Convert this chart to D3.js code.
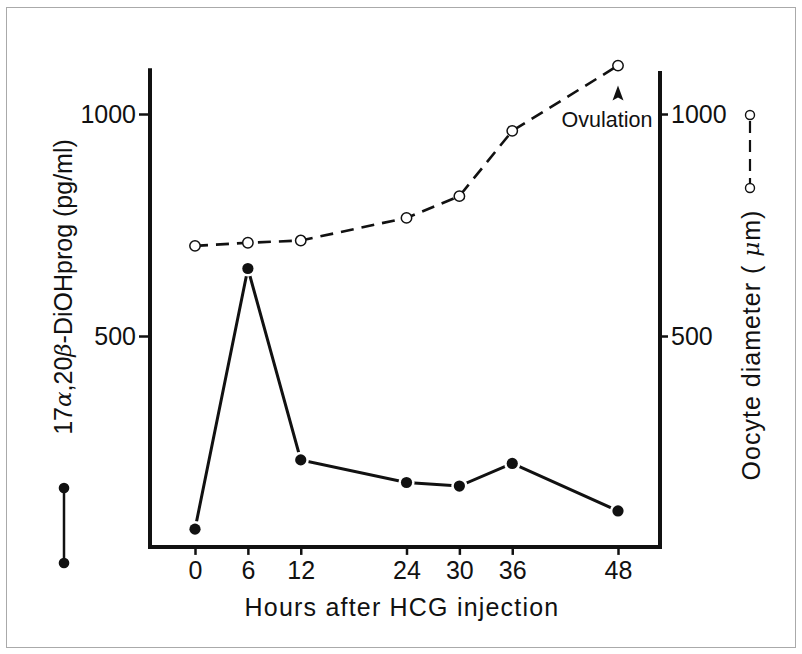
<!DOCTYPE html>
<html>
<head>
<meta charset="utf-8">
<script src="https://cdn.jsdelivr.net/npm/d3@7"></script>
<style>
  html, body { margin: 0; padding: 0; background: #fff; }
  svg { display: block; }
  text { font-family: "Liberation Sans", Arial, Helvetica, sans-serif; fill: #111; }
</style>
</head>
<body>
<svg id="chart" width="802" height="654"></svg>
<script>
// ---- data ----
const hours = [0, 6, 12, 24, 30, 36, 48];
const steroid = [65, 652, 221, 170, 162, 213, 106];      // 17a,20b-DiOHprog (pg/ml)
const diameter = [703, 710, 715, 766, 815, 962, 1109];   // Oocyte diameter (um)
const xTicks = [0, 6, 12, 24, 30, 36, 48];
const leftTicks = [500, 1000];
const rightTicks = [500, 1000];
const annotationHour = 48;
const annotationText = "Ovulation";

// ---- layout ----
const svg = d3.select("#chart");
const ink = "#111";
const fontStack = '"Liberation Sans", Arial, sans-serif';
const frameLeft = 150, frameRight = 660;

const x = d3.scaleLinear().domain([0, 48]).range([195, 618]);
const y = d3.scaleLinear().domain([0, 1000]).range([558, 114]);
const yR = d3.scaleLinear().domain([0, 1000]).range([558, 114]);

const axisBottomVal = 25, leftTopVal = 1103, rightTopVal = 1097;
const yBottom = y(axisBottomVal);

// outer light frame
svg.append("rect").attr("x", 6.5).attr("y", 7.5).attr("width", 789).attr("height", 640)
  .attr("fill", "none").attr("stroke", "#aaa").attr("stroke-width", 1);

// axes frame (left, bottom, right)
svg.append("path")
  .attr("d", `M${frameLeft},${y(leftTopVal)} L${frameLeft},${yBottom} L${frameRight},${yBottom} L${frameRight},${yR(rightTopVal)}`)
  .attr("fill", "none").attr("stroke", ink).attr("stroke-width", 4).attr("stroke-linejoin", "miter");

function styleAxis(g) {
  g.select(".domain").remove();
  g.selectAll(".tick line").attr("stroke", ink).attr("stroke-width", 2.5);
  g.selectAll(".tick text").attr("font-size", 25).attr("fill", ink).style("font-family", fontStack);
}

// bottom axis ticks & labels
const xAxis = d3.axisBottom(x).tickValues(xTicks).tickSize(7).tickPadding(6).tickFormat(d3.format("d"));
svg.append("g").attr("transform", `translate(0,${yBottom + 1})`).call(xAxis).call(styleAxis);

// left axis ticks & labels
const yAxisL = d3.axisLeft(y).tickValues(leftTicks).tickSize(10).tickPadding(3).tickFormat(d3.format("d"));
svg.append("g").attr("transform", `translate(${frameLeft - 1},0)`).call(yAxisL).call(styleAxis);

// right axis ticks & labels
const yAxisR = d3.axisRight(yR).tickValues(rightTicks).tickSize(7).tickPadding(3).tickFormat(d3.format("d"));
svg.append("g").attr("transform", `translate(${frameRight + 1},0)`).call(yAxisR).call(styleAxis);

// x axis title
svg.append("text").attr("x", 402).attr("y", 607).attr("text-anchor", "middle")
  .attr("dominant-baseline", "central").attr("font-size", 25).attr("letter-spacing", 1.2)
  .text("Hours after HCG injection");

// left axis title
const lt = svg.append("text").attr("transform", "translate(63,287) rotate(-90)")
  .attr("text-anchor", "middle").attr("dominant-baseline", "central").attr("font-size", 25);
lt.append("tspan").text("17");
lt.append("tspan").attr("font-style", "italic").attr("font-family", "DejaVu Serif, serif").attr("font-size", 23).text("α");
lt.append("tspan").text(",20");
lt.append("tspan").attr("font-style", "italic").attr("font-family", "DejaVu Serif, serif").attr("font-size", 23).text("β");
lt.append("tspan").text("-DiOHprog (pg/ml)");

// left legend: filled dots joined by a solid line
const legL = svg.append("g");
legL.append("line").attr("x1", 64).attr("x2", 64).attr("y1", 488).attr("y2", 563)
  .attr("stroke", ink).attr("stroke-width", 2.5);
legL.selectAll("circle").data([488, 563]).join("circle")
  .attr("cx", 64).attr("cy", d => d).attr("r", 5.3).attr("fill", ink);

// right axis title
const rt = svg.append("text").attr("transform", "translate(751,345) rotate(-90)")
  .attr("text-anchor", "middle").attr("dominant-baseline", "central").attr("font-size", 25)
  .attr("letter-spacing", 1);
rt.append("tspan").text("Oocyte diameter ( ");
rt.append("tspan").attr("font-style", "italic").attr("font-family", "DejaVu Serif, serif").attr("font-size", 23).text("μ");
rt.append("tspan").text("m)");

// right legend: open circles joined by a dashed line
const legR = svg.append("g");
legR.append("line").attr("x1", 750).attr("x2", 750).attr("y1", 121).attr("y2", 183)
  .attr("stroke", ink).attr("stroke-width", 2.2).attr("stroke-dasharray", "12,7");
legR.selectAll("circle").data([115, 188]).join("circle")
  .attr("cx", 750).attr("cy", d => d).attr("r", 4.5).attr("fill", "#fff")
  .attr("stroke", ink).attr("stroke-width", 1.4);

// ---- series: oocyte diameter (dashed, open circles) ----
const dData = hours.map((h, i) => ({ h, v: diameter[i] }));
svg.append("path").datum(dData)
  .attr("d", d3.line().x(d => x(d.h)).y(d => yR(d.v)))
  .attr("fill", "none").attr("stroke", ink).attr("stroke-width", 2.6)
  .attr("stroke-dasharray", "13,8");
svg.append("g").selectAll("circle").data(dData).join("circle")
  .attr("cx", d => x(d.h)).attr("cy", d => yR(d.v)).attr("r", 5.2)
  .attr("fill", "#fff").attr("stroke", ink).attr("stroke-width", 1.5);

// ---- series: steroid (solid, filled dots) ----
const sData = hours.map((h, i) => ({ h, v: steroid[i] }));
svg.append("path").datum(sData)
  .attr("d", d3.line().x(d => x(d.h)).y(d => y(d.v)))
  .attr("fill", "none").attr("stroke", ink).attr("stroke-width", 3)
  .attr("stroke-linejoin", "miter");
svg.append("g").selectAll("circle").data(sData).join("circle")
  .attr("cx", d => x(d.h)).attr("cy", d => y(d.v)).attr("r", 5.6)
  .attr("fill", ink).attr("stroke", "#fff").attr("stroke-width", 5).attr("paint-order", "stroke");

// ---- annotation: Ovulation arrow ----
const ax = x(annotationHour), ay = yR(diameter[hours.indexOf(annotationHour)]);
svg.append("path")
  .attr("d", `M${ax},${ay + 20} L${ax + 5.5},${ay + 35} L${ax},${ay + 32} L${ax - 5.5},${ay + 35} Z`)
  .attr("fill", ink);
svg.append("text").attr("x", ax - 11).attr("y", ay + 54).attr("text-anchor", "middle")
  .attr("dominant-baseline", "central").attr("font-size", 21.5).text(annotationText);
</script>
</body>
</html>
